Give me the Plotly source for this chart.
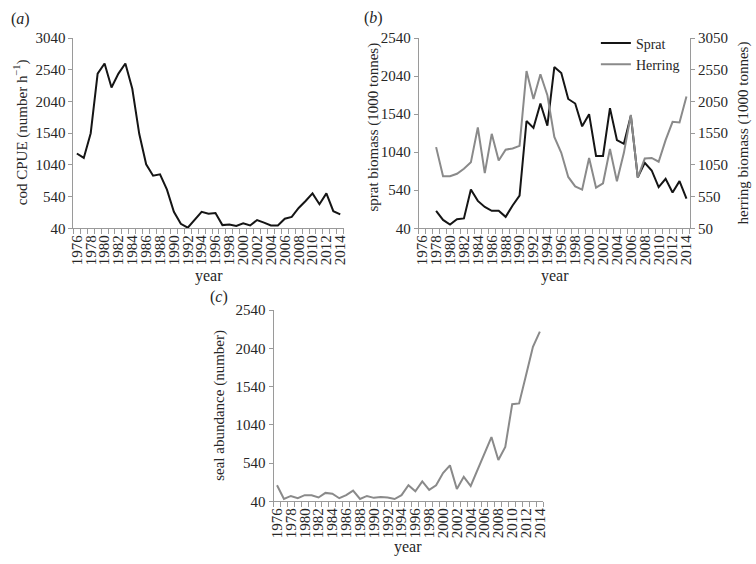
import plotly.graph_objects as go

years = list(range(1976, 2015))

cod_cpue = [1220, 1150, 1540, 2480, 2640, 2260, 2480, 2640, 2240, 1530,
            1050, 870, 890, 650, 300, 110, 50, 170, 300, 270,
            280, 90, 100, 77, 120, 85, 170, 130, 85, 85,
            190, 220, 360, 470, 590, 420, 590, 310, 260]

sprat_years = list(range(1978, 2015))
sprat = [270, 150, 90, 160, 170, 550, 400, 320, 270, 270,
         190, 340, 470, 1450, 1360, 1680, 1390, 2160, 2080, 1740,
         1680, 1380, 1540, 990, 990, 1620, 1200, 1150, 1520, 710,
         900, 800, 580, 690, 510, 660, 430]

herring = [1330, 870, 870, 910, 990, 1090, 1640, 920, 1540, 1120,
           1290, 1310, 1350, 2530, 2090, 2480, 2150, 1490, 1240, 860,
           710, 660, 1160, 690, 760, 1300, 790, 1240, 1840, 850,
           1150, 1160, 1100, 1440, 1730, 1720, 2130]

seal = [250, 70, 110, 80, 120, 120, 90, 150, 140, 80,
        120, 180, 70, 110, 85, 95, 90, 70, 120, 250,
        170, 300, 190, 250, 410, 510, 200, 360, 240, 460,
        680, 880, 580, 750, 1310, 1320, 1690, 2060, 2260]

year_ticks = years[::2]
cod_ticks = [40, 540, 1040, 1540, 2040, 2540, 3040]
sprat_ticks = [40, 540, 1040, 1540, 2040, 2540]
herring_ticks = [50, 550, 1050, 1550, 2050, 2550, 3050]
seal_ticks = [40, 540, 1040, 1540, 2040, 2540]

BLACK = "#151515"
GRAY = "#8a8a8a"
AXIS = "#9a9a9a"
TXT = "#262626"
FONT = "Liberation Serif"

fig = go.Figure()
fig.add_trace(go.Scatter(x=years, y=cod_cpue, mode="lines", line=dict(color=BLACK, width=2),
                         xaxis="x", yaxis="y", showlegend=False))
fig.add_trace(go.Scatter(x=sprat_years, y=sprat, mode="lines", name="Sprat",
                         line=dict(color=BLACK, width=2), xaxis="x2", yaxis="y2"))
fig.add_trace(go.Scatter(x=sprat_years, y=herring, mode="lines", name="Herring",
                         line=dict(color=GRAY, width=2), xaxis="x2", yaxis="y3"))
fig.add_trace(go.Scatter(x=years, y=seal, mode="lines", line=dict(color=GRAY, width=2),
                         xaxis="x4", yaxis="y4", showlegend=False))

W, H = 756, 564
def px(v):
    return v / W
def py(v):
    return 1 - v / H

tickfont = dict(family=FONT, size=15, color=TXT)

def xax(domain, anchor):
    return dict(domain=domain, anchor=anchor, range=[1975.5, 2014.5],
                tickmode="array", tickvals=year_ticks, ticktext=[str(t) for t in year_ticks],
                tickangle=-90, ticks="", showline=True, linecolor=AXIS, linewidth=1,
                showgrid=False, zeroline=False, tickfont=tickfont,
                minor=dict(tickmode="linear", tick0=1975.5, dtick=1, ticks="outside",
                           ticklen=5, tickcolor=AXIS, showgrid=False))

def yax(domain, anchor, rng, tv, side="left"):
    return dict(domain=domain, anchor=anchor, range=rng, tickmode="array", tickvals=tv,
                ticks="outside", ticklen=4, tickcolor=AXIS, showline=True, linecolor=AXIS,
                linewidth=1, showgrid=False, zeroline=False, tickfont=tickfont, side=side)

top_y = py(31)
bot_y = py(226.7)

fig.update_layout(
    width=W, height=H, margin=dict(l=0, r=0, t=0, b=0),
    paper_bgcolor="white", plot_bgcolor="white",
    font=dict(family=FONT, size=15, color=TXT),
    xaxis=xax([px(69.2), px(342.8)], "y"),
    yaxis=yax([bot_y, top_y], "x", [40, 3040], cod_ticks),
    xaxis2=xax([px(418.7), px(693.2)], "y2"),
    yaxis2=yax([bot_y, top_y], "x2", [40, 2540], sprat_ticks),
    yaxis3=dict(yax([bot_y, top_y], "x2", [50, 3050], herring_ticks, side="right"), overlaying="y2"),
    xaxis4=xax([px(271.8), px(544.8)], "y4"),
    yaxis4=yax([py(507.7), py(311)], "x4", [40, 2540], seal_ticks),
    legend=dict(x=px(598), y=py(20), xanchor="left", yanchor="top", bgcolor="rgba(0,0,0,0)",
                font=dict(family=FONT, size=14, color=TXT), tracegroupgap=0, itemwidth=30),
    showlegend=True,
)

ann = [
    ("(<i>a</i>)", 15.5, 11, 0, 16),
    ("(<i>b</i>)", 373, 10, 0, 16),
    ("(<i>c</i>)", 216.7, 297.5, 0, 16),
    ("year", 206.7, 276, 0, 16),
    ("year", 556.7, 276, 0, 16),
    ("year", 408, 555, 0, 16),
    ("cod CPUE (number h<sup>\u22121</sup>)", 16, 128, -90, 15),
    ("sprat biomass (1000 tonnes)", 372, 122.5, -90, 15),
    ("herring biomass (1000 tonnes)", 747, 129, -90, 15),
    ("seal abundance (number)", 217, 409, -90, 15),
]
for text, x, y, ang, size in ann:
    fig.add_annotation(text=text, x=px(x), y=py(y), xref="paper", yref="paper",
                       xanchor="center", yanchor="middle", showarrow=False, textangle=ang,
                       font=dict(family=FONT, size=size, color=TXT))

fig.write_html("out.html", config={"displayModeBar": False},
               post_script="document.body.style.margin='0';document.body.style.overflow='hidden';")
